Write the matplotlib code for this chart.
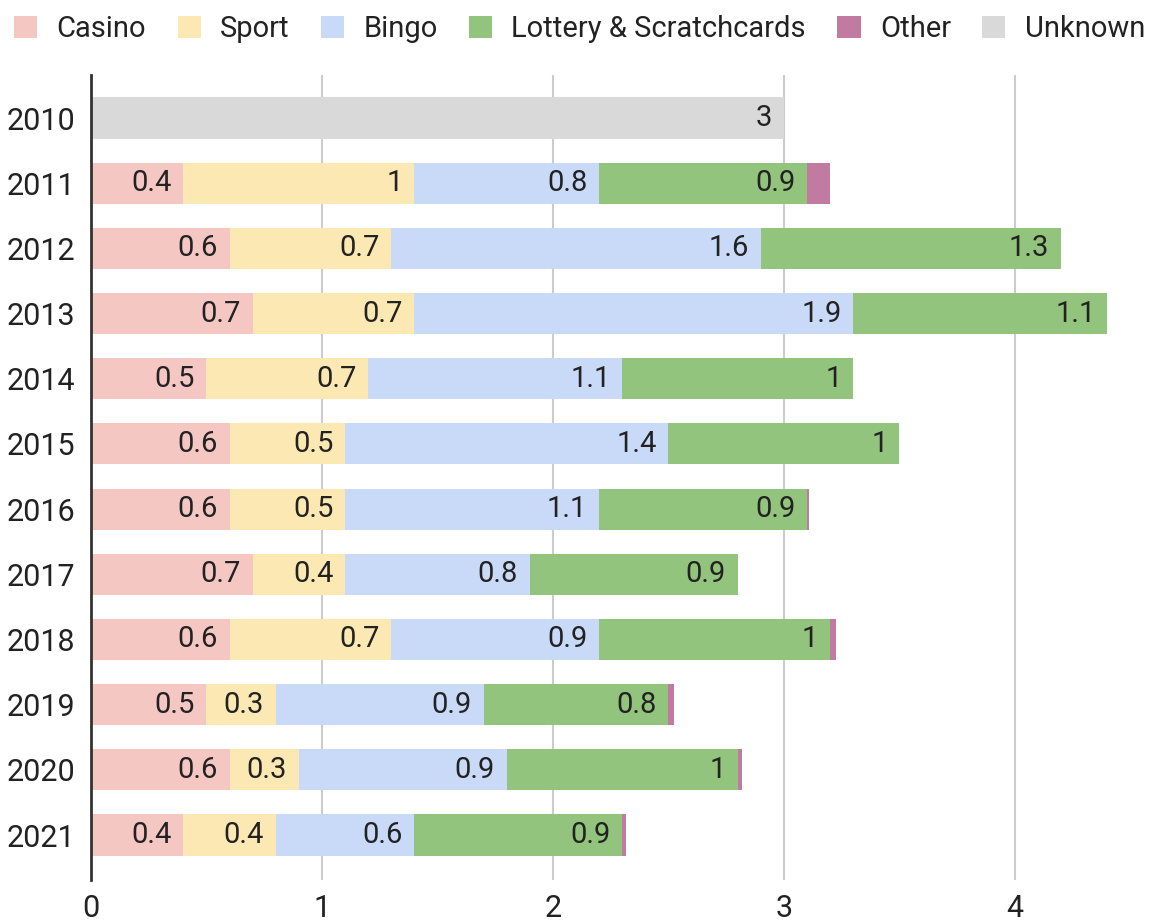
import matplotlib
matplotlib.use("Agg")
import matplotlib.pyplot as plt
from matplotlib.patches import Patch
import numpy as np

years = ["2010", "2011", "2012", "2013", "2014", "2015", "2016", "2017", "2018", "2019", "2020", "2021"]
casino  = [0, 0.4, 0.6, 0.7, 0.5, 0.6, 0.6, 0.7, 0.6, 0.5, 0.6, 0.4]
sport   = [0, 1.0, 0.7, 0.7, 0.7, 0.5, 0.5, 0.4, 0.7, 0.3, 0.3, 0.4]
bingo   = [0, 0.8, 1.6, 1.9, 1.1, 1.4, 1.1, 0.8, 0.9, 0.9, 0.9, 0.6]
lottery = [0, 0.9, 1.3, 1.1, 1.0, 1.0, 0.9, 0.9, 1.0, 0.8, 1.0, 0.9]
other   = [0, 0.1, 0, 0, 0, 0, 0.01, 0, 0.025, 0.025, 0.02, 0.015]
unknown = [3.0, 0, 0, 0, 0, 0, 0, 0, 0, 0, 0, 0]

series_names = ["Casino", "Sport", "Bingo", "Lottery & Scratchcards", "Other", "Unknown"]
series_vals = [casino, sport, bingo, lottery, other, unknown]
colors = ["#f4c7c3", "#fce8b2", "#c9daf8", "#93c47d", "#c27ba0", "#d9d9d9"]

plt.rcParams['font.family'] = ['Roboto', 'DejaVu Sans']

W, H = 1156, 923
fig = plt.figure(figsize=(W / 100, H / 100), dpi=100)
left, right = 91 / W, 1112 / W
top, bottom = 75 / H, 880 / H
ax = fig.add_axes([left, 1 - bottom, right - left, bottom - top])

y = np.arange(len(years))
cum = np.zeros(len(years))
for name, vals, col in zip(series_names, series_vals, colors):
    vals = np.array(vals, dtype=float)
    ax.barh(y, vals, left=cum, height=0.63, color=col, label=name, zorder=2)
    for i, v in enumerate(vals):
        if v >= 0.2:
            ax.annotate(f"{round(v, 1):g}", xy=(cum[i] + v, y[i]), xytext=(-8.5, 0),
                        textcoords="offset points", ha="right", va="center",
                        fontsize=21, color="#222222", zorder=3)
    cum += vals

ax.set_xlim(0, 4.42)
ax.set_ylim(11.69, -0.66)
ax.set_yticks(y)
ax.set_yticklabels(years)
ax.set_xticks([0, 1, 2, 3, 4])
ax.tick_params(axis="both", length=0, labelsize=22, colors="#222222")
ax.tick_params(axis="y", pad=11.5)
ax.tick_params(axis="x", pad=10)
ax.grid(axis="x", color="#cccccc", linewidth=1.5, zorder=0)
ax.set_axisbelow(True)
for s in ["top", "right", "bottom"]:
    ax.spines[s].set_visible(False)
ax.spines["left"].set_color("#333333")
ax.spines["left"].set_linewidth(2)
ax.spines["left"].set_zorder(4)

handles = [Patch(facecolor=c, edgecolor="none") for c in colors]
fig.legend(handles, series_names, loc="upper left", bbox_to_anchor=(-6 / W, 1.006),
           ncol=6, frameon=False, fontsize=21, handlelength=0.79, handleheight=0.79,
           handletextpad=0.66, columnspacing=1.08, borderaxespad=0.3, labelcolor="#222222")

fig.savefig("out.png", dpi=100)
